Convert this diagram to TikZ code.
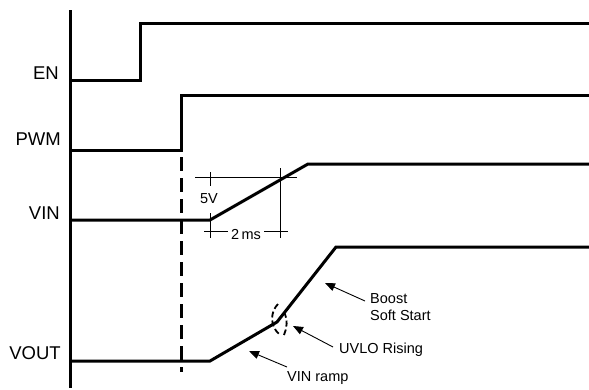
\documentclass[tikz,border=0pt]{standalone}
\usepackage{fontspec}
\setmainfont{Liberation Sans}
\usetikzlibrary{arrows.meta}
\begin{document}
\begin{tikzpicture}[x=1pt,y=-1pt,
  sig/.style={line width=3pt, line join=miter},
  axisline/.style={line width=3pt},
  dimline/.style={line width=0.8pt},
  biglabel/.style={font=\fontsize{18.5}{20}\selectfont, inner sep=0pt, anchor=east},
  smalllabel/.style={font=\fontsize{14.5}{17}\selectfont, inner sep=0pt},
  pointer/.style={line width=0.9pt, -{Triangle[length=10pt,width=8pt]}},
  dashedsig/.style={line width=3pt, dash pattern=on 14pt off 7pt},
  bracket/.style={line width=1.8pt, dash pattern=on 6pt off 3pt}
]
\useasboundingbox (0,0) rectangle (589,389);
\fill[white] (0,0) rectangle (589,389);

% axis
\coordinate (axtop) at (70,10);
\coordinate (axbot) at (70,388);
\draw[axisline] (axtop) -- (axbot);

% labels
\node[biglabel] (en) at (59,73) {EN};
\node[biglabel] (pwm) at (61,139) {PWM};
\node[biglabel] (vin) at (60,213) {VIN};
\node[biglabel] (vout) at (61,353) {VOUT};

% EN
\coordinate (en0) at (70,80);
\coordinate (en1) at (140,80);
\coordinate (en2) at (140,23);
\coordinate (en3) at (589,23);
\draw[sig] (en0) -- (en1) -- (en2) -- (en3);

% PWM
\coordinate (pwm0) at (70,150);
\coordinate (pwm1) at (181,150);
\coordinate (pwm2) at (181,95);
\coordinate (pwm3) at (589,95);
\draw[sig] (pwm0) -- (pwm1) -- (pwm2) -- (pwm3);

% dashed marker
\coordinate (dtop) at (181,157);
\coordinate (dbot) at (181,372);
\draw[dashedsig] (dtop) -- (dbot);

% VIN
\coordinate (vin0) at (70,220);
\coordinate (vin1) at (210,220);
\coordinate (vin2) at (308,164);
\coordinate (vin3) at (589,164);
\draw[sig] (vin0) -- (vin1) -- (vin2) -- (vin3);

% dimension lines
\coordinate (h1a) at (195,177);
\coordinate (h1b) at (297,177);
\draw[dimline] (h1a) -- (h1b);
\coordinate (v1a) at (210,172);
\coordinate (v1b) at (210,186);
\draw[dimline] (v1a) -- (v1b);
\coordinate (v1c) at (210,213);
\coordinate (v1d) at (210,238);
\draw[dimline] (v1c) -- (v1d);
\coordinate (v2a) at (280,168);
\coordinate (v2b) at (280,238);
\draw[dimline] (v2a) -- (v2b);
\node[smalllabel] (fivev) at (209,199) {5V};
\node[smalllabel] (twoms) at (246,235) {2\,ms};
\coordinate (h2a) at (204,231);
\coordinate (h2b) at (288,231);
\draw[dimline] (h2a) -- ([xshift=-3pt]twoms.west |- h2a);
\draw[dimline] ([xshift=3pt]twoms.east |- h2b) -- (h2b);

% VOUT
\coordinate (vo0) at (70,361);
\coordinate (vo1) at (210,361);
\coordinate (vo2) at (277,322);
\coordinate (vo3) at (336,247);
\coordinate (vo4) at (589,247);
\draw[sig] (vo0) -- (vo1) -- (vo2) -- (vo3) -- (vo4);

% UVLO brackets
\draw[bracket] (278,304) .. controls (270,312) and (270,326) .. (279,334);
\draw[bracket] (284,312) .. controls (288,320) and (287,328) .. (284,335);

% annotations
\node[smalllabel, anchor=west, align=left] (boost) at (370,307) {Boost\\Soft Start};
\node[smalllabel, anchor=west] (uvlo) at (339,350) {UVLO Rising};
\node[smalllabel, anchor=west] (ramp) at (287,378) {VIN ramp};
\coordinate (boostpt) at (325,283);
\coordinate (uvlopt) at (293,326);
\coordinate (ramppt) at (249,351);
\draw[pointer] (365,301) -- (boostpt);
\draw[pointer] (333,347) -- (uvlopt);
\draw[pointer] (287,367) -- (ramppt);
\end{tikzpicture}
\end{document}
